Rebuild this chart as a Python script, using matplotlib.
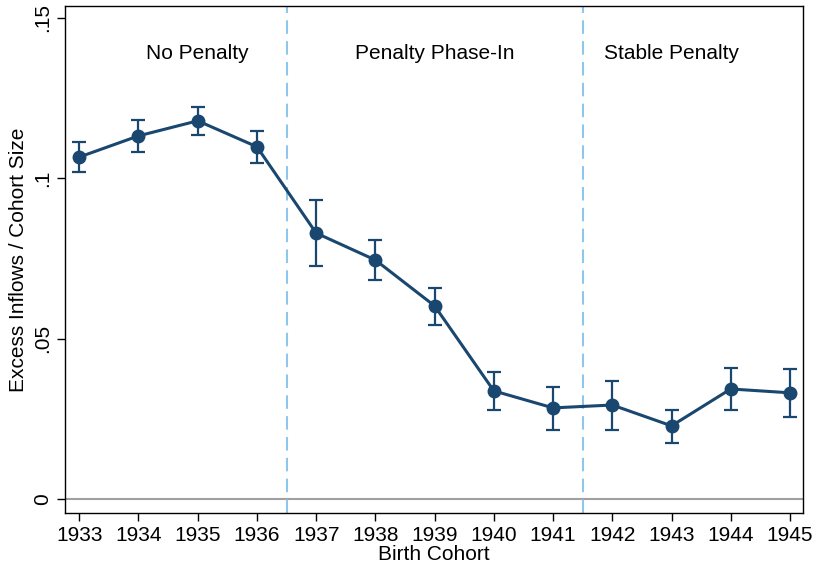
import matplotlib
matplotlib.use("Agg")
from matplotlib import pyplot as plt

cohorts = [1933, 1934, 1935, 1936, 1937, 1938, 1939, 1940, 1941, 1942, 1943, 1944, 1945]
estimate = [0.1066, 0.1132, 0.1179, 0.1098, 0.0829, 0.0745, 0.0602, 0.0337, 0.0284, 0.0293, 0.0228, 0.0343, 0.0331]
ci_high = [0.1113, 0.1182, 0.1222, 0.1147, 0.0932, 0.0808, 0.0658, 0.0396, 0.0349, 0.0368, 0.0278, 0.0408, 0.0405]
ci_low = [0.1020, 0.1082, 0.1135, 0.1048, 0.0727, 0.0683, 0.0543, 0.0278, 0.0215, 0.0215, 0.0175, 0.0278, 0.0256]
phase_breaks = [1936.5, 1941.5]
phase_labels = ["No Penalty", "Penalty Phase-In", "Stable Penalty"]
phase_centers = [1935, 1939, 1943]

plt.rcParams["font.family"] = ["Liberation Sans", "DejaVu Sans"]

fig = plt.figure(figsize=(8.14, 5.69), dpi=100)
ax = fig.add_axes([0.0799, 0.0984, 0.9066, 0.8911])

navy = "#1a476f"
err_lo = [e - l for e, l in zip(estimate, ci_low)]
err_hi = [h - e for e, h in zip(estimate, ci_high)]

ax.axhline(0, color="#a0a0a0", lw=1.5, zorder=1)
for b in phase_breaks:
    ax.axvline(b, color="#8ec6ee", lw=1.5, ls=(0, (6.5, 3.5)), zorder=1)

ax.errorbar(cohorts, estimate, yerr=[err_lo, err_hi], color=navy, lw=2.2,
            marker="o", ms=9, capsize=5, elinewidth=1.6, capthick=1.6, zorder=3)

for lab, c in zip(phase_labels, phase_centers):
    ax.text(c, 0.1388, lab, ha="center", va="center", fontsize=15)

ax.set_xlim(1932.76, 1945.22)
ax.set_ylim(-0.00437, 0.1537)
ax.set_xticks(cohorts)
ax.set_xticklabels([str(c) for c in cohorts])
ax.set_yticks([0, 0.05, 0.1, 0.15])
ax.set_yticklabels(["0", ".05", ".1", ".15"], rotation=90, va="center")
ax.tick_params(labelsize=15, length=6, width=1, direction="out", pad=3)
ax.set_xlabel("Birth Cohort", fontsize=15, labelpad=0)
ax.set_ylabel("Excess Inflows / Cohort Size", fontsize=15, labelpad=4)
for s in ax.spines.values():
    s.set_linewidth(1)

fig.savefig("out.png", dpi=100)
